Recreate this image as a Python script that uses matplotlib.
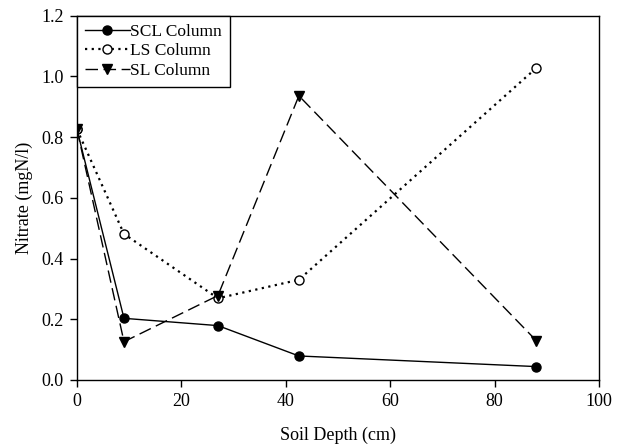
import numpy as np
import matplotlib.pyplot as plt
from matplotlib.ticker import FormatStrFormatter

plt.rcParams['font.family'] = ['Liberation Serif', 'DejaVu Serif']

# soil depth (cm) and nitrate (mgN/l) for each column
depth = [0, 9, 27, 42.5, 88]
scl = [0.825, 0.203, 0.179, 0.079, 0.044]
ls = [0.825, 0.481, 0.269, 0.330, 1.028]
sl = [0.825, 0.126, 0.278, 0.936, 0.129]

fig = plt.figure(figsize=(6.26, 4.47), dpi=100)
ax = fig.add_axes([0.123, 0.150, 0.834, 0.815])

ax.plot(depth, scl, color='black', lw=1.0, ls='-', marker='o', ms=6.5,
        mfc='black', mec='black', label='SCL Column')
ax.plot(depth, ls, color='black', lw=1.6, ls=(0, (1, 2)), marker='o', ms=6.5,
        mfc='white', mec='black', mew=1.0, label='LS Column')
ax.plot(depth, sl, color='black', lw=1.0, ls=(0, (9, 4)), marker='v', ms=7.5,
        mfc='black', mec='black', label='SL Column')

ax.set_xlim(0, 100)
ax.set_ylim(0, 1.2)
ax.set_xticks(np.arange(0, 101, 20))
ax.set_yticks(np.arange(0, 1.21, 0.2))
ax.yaxis.set_major_formatter(FormatStrFormatter('%.1f'))
ax.tick_params(direction='out', length=5, width=1, labelsize=13,
               top=False, right=False, colors='black', pad=4.5)
for s in ax.spines.values():
    s.set_linewidth(1.0)

ax.set_xlabel('Soil Depth (cm)', fontsize=13, labelpad=12)
ax.set_ylabel('Nitrate (mgN/l)', fontsize=13, labelpad=6)

leg = ax.legend(loc='upper left', borderaxespad=0, fancybox=False,
                edgecolor='black', framealpha=1, fontsize=12.5,
                handlelength=2.6, handletextpad=0.0, labelspacing=0.2,
                borderpad=0.45)
leg.get_frame().set_linewidth(1.0)

fig.savefig('out.png', dpi=100)
